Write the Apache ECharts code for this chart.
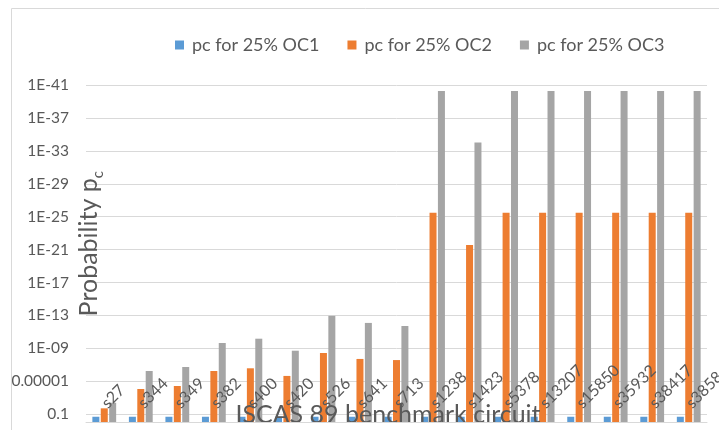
<!DOCTYPE html>
<html>
<head>
<meta charset="utf-8">
<script src="https://cdn.jsdelivr.net/npm/echarts@6/dist/echarts.min.js"></script>
<style>
  html, body { margin: 0; padding: 0; background: #fff; }
  #chart { width: 719px; height: 430px; }
</style>
</head>
<body>
<div id="chart"></div>
<script>
// Benchmark circuits (ISCAS 89)
const circuits = ['s27', 's344', 's349', 's382', 's400', 's420', 's526', 's641', 's713',
  's1238', 's1423', 's5378', 's13207', 's15850', 's35932', 's38417', 's38584'];

// Probability pc at 25% for each observation case
const pcOC1 = [0.2, 0.2, 0.2, 0.2, 0.2, 0.2, 0.2, 0.2, 0.2,
  0.2, 0.2, 0.2, 0.2, 0.2, 0.2, 0.2, 0.2];
const pcOC2 = [0.019, 8.5e-5, 3.7e-5, 5.5e-7, 2.6e-7, 2.2e-6, 3.6e-9, 1.9e-8, 2.6e-8,
  3.2e-26, 2.7e-22, 3.2e-26, 3.2e-26, 3.2e-26, 3.2e-26, 3.2e-26, 3.2e-26];
const pcOC3 = [4e-3, 5.5e-7, 1.8e-7, 2.2e-10, 6.6e-11, 1.9e-9, 1.1e-13, 8e-13, 1.9e-12,
  5.2e-41, 1e-34, 5.2e-41, 5.2e-41, 5.2e-41, 5.2e-41, 5.2e-41, 5.2e-41];

// Axis tick labels (probability), from 0.1 down to 1E-41
const probTicks = [0.1, 0.00001, 1e-9, 1e-13, 1e-17, 1e-21, 1e-25, 1e-29, 1e-33, 1e-37, 1e-41];

const seriesNames = ['pc for 25% OC1', 'pc for 25% OC2', 'pc for 25% OC3'];
const colors = ['#5B9BD5', '#ED7D31', '#A5A5A5'];

const FONT = 'Lato, "Open Sans", sans-serif';
const TEXT = '#595959';
const GRID_LINE = '#D9D9D9';

// The value axis runs in decades below 1: v = -log10(p), so p = 1 sits on the baseline.
const toDecades = p => -Math.log10(p);
const tickDecades = probTicks.map(toDecades).map(v => Math.round(v));

function formatProb(v) {
  const e = Math.round(v);
  if (e <= 5) return Math.pow(10, -e).toFixed(e);
  return '1E-' + String(e).padStart(2, '0');
}

const chart = echarts.init(document.getElementById('chart'), null, { renderer: 'canvas' });

const seriesData = [pcOC1, pcOC2, pcOC3];

chart.setOption({
  animation: false,
  color: colors,
  graphic: [
    // chart-area frame; anything left of it is cut away
    {
      type: 'rect',
      shape: { x: 0, y: 0, width: 11, height: 430 },
      style: { fill: '#fff' },
      silent: true, z: 100
    },
    {
      type: 'rect',
      shape: { x: 11.5, y: 8.5, width: 800, height: 600 },
      style: { fill: 'none', stroke: GRID_LINE, lineWidth: 1 },
      silent: true, z: 101
    }
  ],
  legend: {
    left: 170,
    top: 31,
    icon: 'rect',
    itemWidth: 9,
    itemHeight: 9,
    itemGap: 28,
    textStyle: { fontFamily: FONT, fontSize: 18, color: TEXT, padding: [0, 0, 0, 3] },
    data: seriesNames
  },
  grid: { left: 86, right: 12, top: 85, bottom: 7.5, containLabel: false, outerBoundsMode: 'none' },
  xAxis: {
    type: 'category',
    data: circuits,
    z: 5,
    axisLine: { show: true, lineStyle: { color: GRID_LINE, width: 1 } },
    axisTick: { show: false },
    axisLabel: {
      interval: 0,
      rotate: 45,
      align: 'left',
      verticalAlign: 'middle',
      margin: -17,
      hideOverlap: false,
      fontFamily: FONT,
      fontSize: 16,
      color: TEXT
    },
    name: 'ISCAS 89 benchmark circuit',
    nameLocation: 'middle',
    nameGap: -20,
    nameMoveOverlap: false,
    nameTextStyle: { fontFamily: FONT, fontSize: 25, color: TEXT, padding: [0, 17, 0, 0] }
  },
  yAxis: {
    type: 'value',
    min: 0,
    max: 41,
    axisLine: { show: false },
    axisTick: { show: false, customValues: tickDecades },
    splitLine: { show: true, lineStyle: { color: GRID_LINE, width: 1 } },
    axisLabel: {
      customValues: tickDecades,
      margin: 17,
      fontFamily: FONT,
      fontSize: 15.5,
      color: TEXT,
      formatter: formatProb
    },
    name: '{a|Probability p}{b|c}',
    nameLocation: 'middle',
    nameGap: -15,
    nameMoveOverlap: false,
    nameTextStyle: {
      padding: [0, 0, 0, 20],
      rich: {
        a: { fontFamily: FONT, fontSize: 25, color: TEXT },
        b: { fontFamily: FONT, fontSize: 15, color: TEXT, verticalAlign: 'bottom', padding: [0, 0, -5, 0] }
      }
    }
  },
  series: seriesNames.map((name, i) => ({
    name,
    type: 'bar',
    barWidth: 7,
    barGap: '20%',
    data: seriesData[i].map(toDecades),
    z: 2
  }))
});
</script>
</body>
</html>
